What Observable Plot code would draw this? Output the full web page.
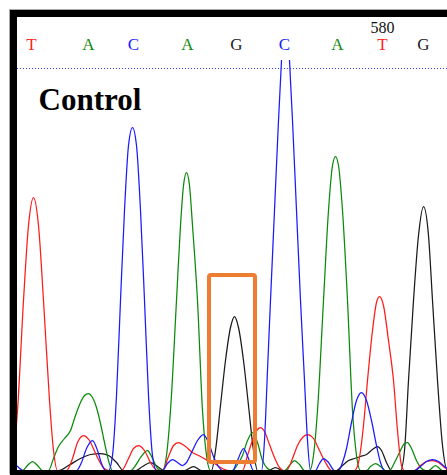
<!DOCTYPE html>
<html><head><meta charset="utf-8">
<script src="https://cdn.jsdelivr.net/npm/d3@7"></script>
<script src="https://cdn.jsdelivr.net/npm/@observablehq/plot@0.6"></script>
<style>
body{margin:0;background:#fff;}
#wrap{position:relative;width:447px;height:475px;overflow:hidden;background:#fff;}
#wrap svg{position:absolute;left:0;top:0;}
#border{position:absolute;left:10px;top:10px;width:460px;height:453px;border-left:7px solid #000;border-top:7px solid #000;border-bottom:5px solid #000;box-shadow:-1px -1px 0 #aaa;pointer-events:none;}
</style></head>
<body>
<div id="wrap"><div id="border"></div></div>
<script>
// Base calls (scan position, base)
const bases = [[31,"T"],[88,"A"],[133,"C"],[187,"A"],[236,"G"],[284,"C"],[337,"A"],[382,"T"],[423,"G"]];
const positionLabels = [[382,"580"]];
const title = "Control";

// Traces: [scan position, signal intensity]
const traceT = [[8,0],[13,15],[17,60],[23,170],[28,245],[33,273],[38,245],[43,170],[49,70],[53,20],[57,0],
  [66,0],[72,12],[77,28],[83,35],[89,30],[96,15],[102,4],[108,0],
  [121,0],[128,12],[133,22],[138,25],[144,20],[150,8],[157,0],
  [162,0],[168,14],[173,25],[178,28],[185,24],[192,18],[200,14],[207,10],[214,7],[220,3],[228,0],
  [242,0],[247,15],[252,30],[257,41],[260,43],[264,39],[269,26],[274,13],[279,3],[283,0],
  [286,0],[292,12],[297,25],[302,33],[307,36],[313,32],[319,20],[325,8],[331,0],
  [354,0],[358,8],[363,45],[367,90],[372,140],[376,168],[379,174],[383,165],[388,130],[393,90],[397,40],[401,5],[404,0],
  [414,0],[420,5],[426,9],[432,10],[438,8],[444,3],[450,0]];
const traceC = [[10,10],[17,4],[23,0],
  [76,0],[81,8],[86,22],[92,30],[97,20],[101,7],[105,0],
  [108,0],[112,15],[116,75],[120,170],[124,260],[128,325],[132,343],[136,325],[140,260],[144,170],[148,75],[152,15],[156,0],
  [162,0],[167,7],[172,11],[177,8],[182,5],[186,8],[192,20],[197,30],[203,36],[208,28],[213,14],[218,4],[222,0],
  [232,0],[237,10],[243,22],[248,12],[253,0],
  [261,0],[264,30],[267,100],[270,170],[274,260],[278,350],[281,410],[285,480],[289,410],[292,350],[296,260],[300,170],[304,90],[307,30],[310,0],
  [315,0],[319,7],[323,12],[328,8],[334,0],
  [338,0],[342,8],[346,22],[351,48],[356,70],[361,78],[366,70],[371,50],[376,25],[380,8],[384,0],
  [414,0],[420,4],[426,9],[432,11],[438,9],[444,4],[450,0]];
const traceA = [[17,0],[22,0],[27,5],[32,9],[37,5],[42,0],
  [48,0],[53,12],[58,24],[64,32],[70,40],[75,55],[80,68],[84,75],[88,77],[92,73],[96,63],[100,47],[104,28],[108,10],[112,0],
  [130,0],[135,5],[140,13],[147,20],[152,12],[157,2],[160,0],
  [162,0],[166,15],[170,60],[176,170],[180,245],[183,285],[186,298],[189,285],[192,245],[197,170],[202,60],[206,15],[210,0],
  [232,0],[237,6],[242,15],[247,30],[252,38],[257,28],[262,10],[267,2],[271,0],
  [284,0],[289,5],[294,10],[299,6],[304,0],
  [309,0],[313,15],[317,60],[323,170],[328,260],[332,305],[335,314],[338,305],[342,260],[347,170],[352,60],[356,15],[360,0],
  [366,0],[370,4],[375,7],[380,4],[385,0],
  [389,0],[394,8],[399,18],[404,27],[407,28],[411,22],[416,10],[421,2],[425,0],
  [428,0],[435,5],[442,0],[450,0]];
const traceG = [[17,0],[58,0],[68,5],[80,12],[90,16],[100,17],[108,15],[116,8],[123,0],
  [135,0],[142,4],[150,8],[157,4],[164,0],
  [184,0],[193,4],[201,0],
  [211,0],[215,20],[220,65],[225,110],[230,143],[234,154],[238,143],[243,110],[248,65],[253,20],[257,0],
  [268,0],[275,3],[282,0],
  [336,0],[342,5],[348,10],[354,12],[360,14],[366,16],[372,21],[377,24],[381,20],[386,8],[391,0],
  [400,0],[404,20],[408,90],[413,170],[418,235],[423,264],[428,235],[432,170],[437,90],[442,25],[447,0],[452,0]];

// Highlighted peak region
const highlight = [{x1:209, x2:255, y1:8, y2:195}];
const calibrationLine = [402];

const baseColor = {T:"#ff1f1f", A:"#108a10", C:"#2020ff", G:"#202020"};
const traceColor = {T:"#ff1a1a", A:"#0a8a0a", C:"#1a1aff", G:"#1a1a1a"};
const serif = "'Liberation Serif', 'Times New Roman', Times, serif";

const line = (data, c) => Plot.line(data, {x: d => d[0], y: d => d[1], stroke: traceColor[c], strokeWidth: 1.25, curve: "monotone-x", clip: true});

const chart = Plot.plot({
  width: 447, height: 475,
  marginLeft: 17, marginRight: 0, marginTop: 60, marginBottom: 5,
  x: {domain: [17, 447], axis: null},
  y: {domain: [0, 410], axis: null},
  style: {background: "transparent", overflow: "visible"},
  marks: [
    Plot.ruleY(calibrationLine, {stroke: "#3a3aff", strokeWidth: 1, strokeDasharray: "1,2"}),
    line(traceG, "G"),
    line(traceA, "A"),
    line(traceT, "T"),
    line(traceC, "C"),
    Plot.rect(highlight, {x1: "x1", x2: "x2", y1: "y1", y2: "y2", fill: "none", stroke: "#ED7D31", strokeWidth: 4, rx: 2, inset: 0}),
    Plot.text(bases, {x: d => d[0], y: () => 426, text: d => d[1], fill: d => baseColor[d[1]], fontFamily: serif, fontSize: 17}),
    Plot.text(positionLabels, {x: d => d[0], y: () => 443, text: d => d[1], fill: "#111", fontFamily: serif, fontSize: 16}),
    Plot.text([title], {x: () => 38, y: () => 370, text: d => d, textAnchor: "start", fill: "#000", fontFamily: serif, fontWeight: "bold", fontSize: 31})
  ]
});
document.getElementById("wrap").prepend(chart);
</script>
</body></html>
